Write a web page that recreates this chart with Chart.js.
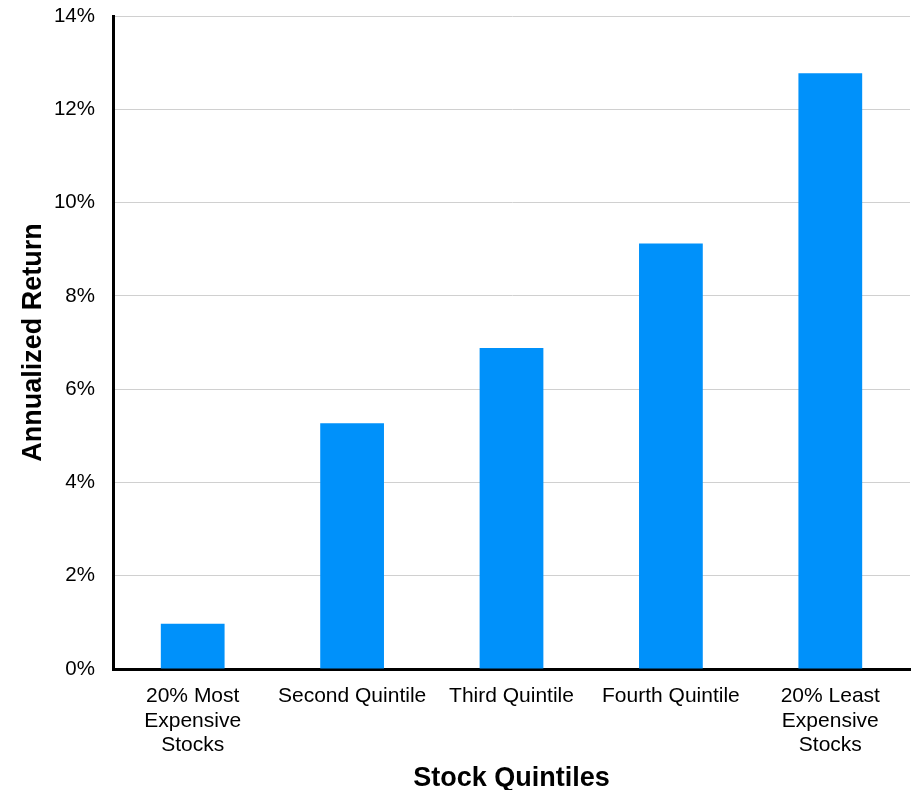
<!DOCTYPE html>
<html>
<head>
<meta charset="utf-8">
<script src="https://cdn.jsdelivr.net/npm/chart.js@4"></script>
<style>
  html, body { margin: 0; padding: 0; background: #fff; }
  #wrap { width: 914px; height: 790px; position: relative; }
</style>
</head>
<body>
<div id="wrap"><canvas id="c" width="914" height="790"></canvas></div>
<script>
const categories = [
  ["20% Most", "Expensive", "Stocks"],
  "Second Quintile",
  "Third Quintile",
  "Fourth Quintile",
  ["20% Least", "Expensive", "Stocks"]
];
const annualizedReturn = [0.97, 5.27, 6.88, 9.12, 12.77];
const yTickValues = [0, 2, 4, 6, 8, 10, 12, 14];
const xTitle = "Stock Quintiles";
const yTitle = "Annualized Return";

const FONT = "'Liberation Sans', Arial, Helvetica, sans-serif";

new Chart(document.getElementById('c'), {
  type: 'bar',
  data: {
    labels: categories,
    datasets: [{
      data: annualizedReturn,
      backgroundColor: '#0091fa',
      borderWidth: 0,
      categoryPercentage: 1.0,
      barPercentage: 0.4
    }]
  },
  options: {
    responsive: false,
    animation: false,
    devicePixelRatio: 1,
    layout: { padding: { top: 16, right: 4, left: 0, bottom: 0 } },
    plugins: { legend: { display: false }, tooltip: { enabled: false } },
    scales: {
      x: {
        afterFit: (s) => { s.height = 121; s.paddingLeft = 0; s.paddingRight = 0; },
        grid: { display: false, drawTicks: false },
        border: { display: true, color: '#000', width: 3 },
        ticks: {
          color: '#000',
          font: { family: FONT, size: 21, lineHeight: 1.17 },
          padding: 15,
          maxRotation: 0,
          autoSkip: false
        },
        title: {
          display: true,
          text: xTitle,
          color: '#000',
          font: { family: FONT, size: 27, weight: 'bold', lineHeight: 0.85 },
          padding: { top: 0, bottom: 0 }
        }
      },
      y: {
        min: 0,
        max: 14,
        afterFit: (s) => { s.width = 113; s.paddingTop = 0; s.paddingBottom = 0; },
        afterBuildTicks: (scale) => { scale.ticks = yTickValues.map(v => ({ value: v })); },
        grid: { color: '#d0d0d0', lineWidth: 1, drawTicks: false },
        border: { display: true, color: '#000', width: 3 },
        ticks: {
          color: '#000',
          font: { family: FONT, size: 20.5 },
          padding: 18,
          callback: (v) => v + '%'
        },
        title: {
          display: true,
          text: yTitle,
          color: '#000',
          font: { family: FONT, size: 27, weight: 'bold', lineHeight: 1.0 },
          padding: { top: 20, bottom: 0 }
        }
      }
    }
  }
});
</script>
</body>
</html>
